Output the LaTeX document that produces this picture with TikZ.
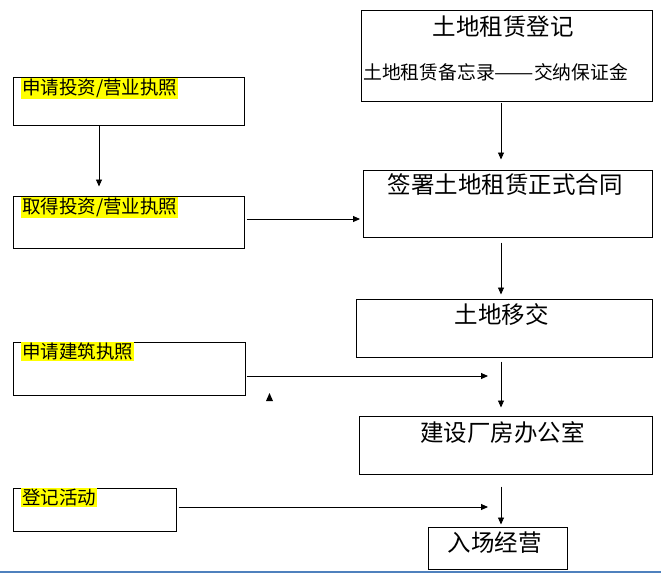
\documentclass[tikz,border=0pt]{standalone}
\usepackage{fontspec}
\usepackage{graphicx}
\newfontfamily\cjk{Noto Sans CJK SC}
\usetikzlibrary{arrows.meta,calc}
\definecolor{hl}{RGB}{255,255,0}
\definecolor{rule}{RGB}{79,129,189}
\begin{document}
\begin{tikzpicture}[x=1pt,y=-1pt,
  box/.style={draw,line width=1pt,inner sep=0pt},
  arr/.style={line width=0.9pt,-{Triangle[length=7pt,width=6pt]}},
  ttl/.style={font=\cjk\fontsize{23.5}{23.5}\selectfont,inner sep=0pt,anchor=center},
  lbl/.style={font=\cjk\fontsize{18.5}{18.5}\selectfont,fill=hl,inner sep=1pt,anchor=north west}]
\useasboundingbox (0,0) rectangle (661,574);
% right column boxes
\node[box,minimum width=291pt,minimum height=91pt] (r1) at (506.5,55.5) {};
\node[ttl] (r1t) at (503,27) {土地租赁登记};
\node[font=\cjk\fontsize{18.8}{18.8}\selectfont,inner sep=0pt,anchor=west] (r1s) at (363,72) {土地租赁备忘录\scalebox{1.25}[1]{——}交纳保证金};
\node[box,minimum width=289pt,minimum height=67pt] (r2) at (508,203.5) {};
\node[ttl] (r2t) at (505,185) {签署土地租赁正式合同};
\node[box,minimum width=296pt,minimum height=58pt] (r3) at (504,328) {};
\node[ttl] (r3t) at (501.5,315) {土地移交};
\node[box,minimum width=293pt,minimum height=58pt] (r4) at (505.5,445) {};
\node[ttl] (r4t) at (502.5,432) {建设厂房办公室};
\node[box,minimum width=139pt,minimum height=42pt] (r5) at (497.5,548) {};
\node[ttl] (r5t) at (494.5,543) {入场经营};
% left column boxes
\node[box,minimum width=231pt,minimum height=48pt] (l1) at (128.5,101) {};
\node[lbl] (l1t) at (21,78) {申请投资/营业执照};
\node[box,minimum width=231pt,minimum height=52pt] (l2) at (128.5,222) {};
\node[lbl] (l2t) at (21,197) {取得投资/营业执照};
\node[box,minimum width=232pt,minimum height=53pt] (l3) at (129,368.5) {};
\node[lbl] (l3t) at (21,342) {申请建筑执照};
\node[box,minimum width=163pt,minimum height=43pt] (l4) at (94.5,509.5) {};
\node[lbl] (l4t) at (21,488) {登记活动};
% connector helpers
\coordinate (ax) at (501,0);
\coordinate (lx) at (99,0);
\coordinate (e3) at (488,376);
\coordinate (e4) at (488,507);
% connectors
\draw[arr,shorten <=1pt,shorten >=10pt] (r1.south -| ax) -- (r2.north -| ax);
\draw[arr,shorten <=5pt,shorten >=4pt] (r2.south -| ax) -- (r3.north -| ax);
\draw[arr,shorten <=4pt,shorten >=8pt] (r3.south -| ax) -- (r4.north -| ax);
\draw[arr,shorten <=12pt,shorten >=2pt] (r4.south -| ax) -- (r5.north -| ax);
\draw[arr,shorten >=9pt] (l1.south -| lx) -- (l2.north -| lx);
\draw[arr,shorten <=2pt,shorten >=3pt] (l2.east |- 0,219) -- (r2.west |- 0,219);
\draw[arr,shorten <=1pt] (l3.east |- e3) -- (e3);
\draw[arr,shorten <=2pt] (l4.east |- e4) -- (e4);
% stray arrowhead
\fill (269.5,393) -- (273,401) -- (266,401) -- cycle;
% bottom rule
\draw[rule,line width=1.2pt] (0,572) -- (661,572);
\end{tikzpicture}
\end{document}
